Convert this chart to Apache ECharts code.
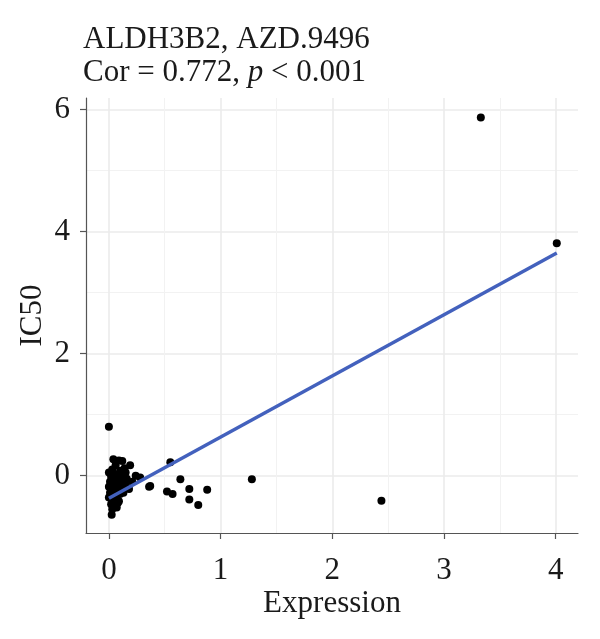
<!DOCTYPE html>
<html>
<head>
<meta charset="utf-8">
<script src="https://cdn.jsdelivr.net/npm/echarts@6/dist/echarts.min.js"></script>
<style>
  html, body { margin: 0; padding: 0; background: #fff; }
  #chart { width: 600px; height: 639px; }
</style>
</head>
<body>
<div id="chart"></div>
<script>
// expression vs IC50
const pointsX = [
  0.00, 0.02, 0.05, 0.08, 0.11, 0.01, 0.04, 0.07, 0.10, 0.13,
  0.00, 0.03, 0.06, 0.09, 0.12, 0.15, 0.01, 0.04, 0.07, 0.10,
  0.13, 0.00, 0.03, 0.06, 0.09, 0.02, 0.05, 0.08, 0.03, 0.07,
  0.025, 0.16, 0.18, 0.21, 0.24, 0.28, 0.36, 0.15, 0.10, 0.03,
  0.04, 0.09, 0.12, 0.06, 0.19, 0.14,
  0.55, 0.37, 0.64, 0.52, 0.57, 0.72, 0.88, 0.72, 0.80,
  1.28, 2.44, 0.00, 3.33, 4.01
]
const pointsY = [
  0.05, -0.02, 0.02, 0.00, -0.03, -0.10, -0.12, -0.08, -0.12, -0.07,
  -0.18, -0.22, -0.20, -0.25, -0.20, -0.15, -0.28, -0.30, -0.33, -0.30,
  -0.28, -0.36, -0.40, -0.38, -0.42, -0.47, -0.50, -0.45, -0.55, -0.52,
  -0.64, -0.05, -0.22, -0.10, 0.00, -0.03, -0.18, 0.05, 0.08, 0.10,
  0.27, 0.25, 0.24, 0.17, 0.17, 0.12,
  0.22, -0.17, -0.06, -0.26, -0.30, -0.22, -0.23, -0.39, -0.48,
  -0.06, -0.41, 0.80, 5.87, 3.81
]
// fitted line (lm) ends
const fitX = [0.00, 4.01]
const fitY = [-0.37, 3.65]

const xTicks = [0, 1, 2, 3, 4]
const yTicks = [0, 2, 4, 6]

const scatterData = pointsX.map((x, i) => [x, pointsY[i]])
const fitData = fitX.map((x, i) => [x, fitY[i]])

const font = 'Liberation Serif'
const textColor = '#1a1a1a'
const fs = 31

const chart = echarts.init(document.getElementById('chart'))
chart.setOption({
  animation: false,
  backgroundColor: '#fff',
  title: {
    left: 78,
    top: 18,
    text: '{a|ALDH3B2, AZD.9496}\n{a|Cor = 0.772, }{i|p}{a| < 0.001}',
    textStyle: {
      fontWeight: 'normal',
      rich: {
        a: { fontFamily: font, fontSize: fs, fontWeight: 'normal', color: textColor, lineHeight: 33 },
        i: { fontFamily: font, fontSize: fs, fontWeight: 'normal', color: textColor, lineHeight: 33, fontStyle: 'italic' }
      }
    }
  },
  grid: {
    left: 86,
    right: 22,
    top: 98,
    bottom: 106,
    outerBoundsMode: 'none',
    containLabel: false
  },
  xAxis: {
    type: 'value',
    min: -0.205,
    max: 4.2,
    minInterval: 1,
    maxInterval: 1,
    name: 'Expression',
    nameLocation: 'middle',
    nameGap: 55,
    nameMoveOverlap: false,
    nameTextStyle: { fontFamily: font, fontSize: fs, color: textColor },
    axisLine: { show: true, onZero: false, lineStyle: { color: '#555', width: 1.2 } },
    axisTick: { show: true, length: 6, customValues: xTicks, lineStyle: { color: '#555', width: 1.2 } },
    axisLabel: {
      customValues: xTicks,
      margin: 22,
      fontFamily: font,
      fontSize: fs,
      color: textColor
    },
    splitLine: { show: true, lineStyle: { color: '#ebebeb', width: 1.6 } },
    minorTick: { show: false, splitNumber: 2 },
    minorSplitLine: { show: true, lineStyle: { color: '#f2f2f2', width: 1 } }
  },
  yAxis: {
    type: 'value',
    min: -0.94,
    max: 6.19,
    minInterval: 2,
    maxInterval: 2,
    name: 'IC50',
    nameLocation: 'middle',
    nameGap: 38,
    nameMoveOverlap: false,
    nameTextStyle: { fontFamily: font, fontSize: fs, color: textColor },
    axisLine: { show: true, onZero: false, lineStyle: { color: '#555', width: 1.2 } },
    axisTick: { show: true, length: 6, customValues: yTicks, lineStyle: { color: '#555', width: 1.2 } },
    axisLabel: {
      customValues: yTicks,
      margin: 16,
      fontFamily: font,
      fontSize: fs,
      color: textColor
    },
    splitLine: { show: true, lineStyle: { color: '#ebebeb', width: 1.6 } },
    minorTick: { show: false, splitNumber: 2 },
    minorSplitLine: { show: true, lineStyle: { color: '#f2f2f2', width: 1 } }
  },
  series: [
    {
      name: 'points',
      type: 'scatter',
      data: scatterData,
      symbol: 'circle',
      symbolSize: 8,
      itemStyle: { color: '#000', opacity: 1 },
      z: 2
    },
    {
      name: 'fit',
      type: 'line',
      data: fitData,
      showSymbol: false,
      symbol: 'none',
      lineStyle: { color: '#4361bd', width: 3.5 },
      z: 3
    }
  ]
})
</script>
</body>
</html>
